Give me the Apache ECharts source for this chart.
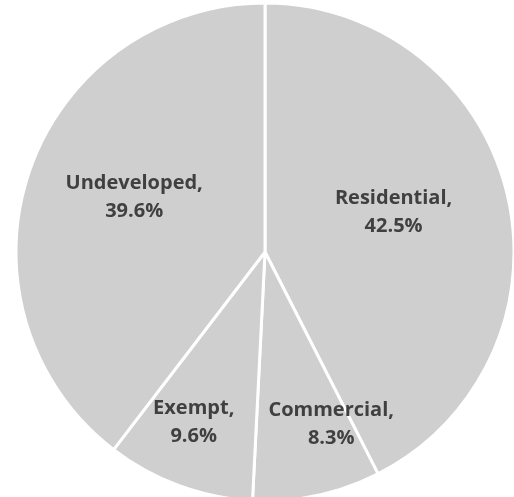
<!DOCTYPE html>
<html>
<head>
<meta charset="utf-8">
<script src="https://cdn.jsdelivr.net/npm/echarts@6/dist/echarts.min.js"></script>
<style>
html,body{margin:0;padding:0;background:#fff;}
#main{width:514px;height:497px;}
</style>
</head>
<body>
<div id="main"></div>
<script>
// Data
var categories = ["Residential", "Commercial", "Exempt", "Undeveloped"];
var shares = [42.5, 8.3, 9.6, 39.6];

// Label placement tweaks (style only): radius fraction and angle offset in degrees
var labelRadiusFrac = [0.54, 0.74, 0.74, 0.57];
var labelAngleShift = [-3.5, -9, 2.6, 4.1];

var CX = 265, CY = 252, R = 249;

var chart = echarts.init(document.getElementById('main'), null, {renderer: 'canvas'});

var seriesData = categories.map(function (c, i) {
  return { name: c, value: shares[i] };
});

chart.setOption({
  animation: false,
  backgroundColor: '#ffffff',
  series: [{
    type: 'pie',
    center: [CX, CY],
    radius: [0, R],
    startAngle: 90,
    clockwise: true,
    data: seriesData,
    itemStyle: {
      color: '#d0cfd0',
      borderColor: '#ffffff',
      borderWidth: 3
    },
    emphasis: { disabled: true },
    labelLine: { show: false },
    label: {
      show: true,
      position: 'inner',
      formatter: function (p) { return p.name + ',\n' + p.value.toFixed(1) + '%'; },
      fontFamily: 'Open Sans',
      fontWeight: 'bold',
      fontSize: 20,
      lineHeight: 28,
      color: '#404040',
      align: 'center'
    },
    labelLayout: function (params) {
      var i = params.dataIndex;
      var lr = params.labelRect;
      var lx = lr.x + lr.width / 2, ly = lr.y + lr.height / 2;
      var ang = Math.atan2(lx - CX, -(ly - CY)) + labelAngleShift[i] * Math.PI / 180;
      var rr = labelRadiusFrac[i] * R;
      var nx = CX + rr * Math.sin(ang), ny = CY - rr * Math.cos(ang);
      return { dx: nx - lx, dy: ny - ly };
    }
  }]
});
</script>
</body>
</html>
